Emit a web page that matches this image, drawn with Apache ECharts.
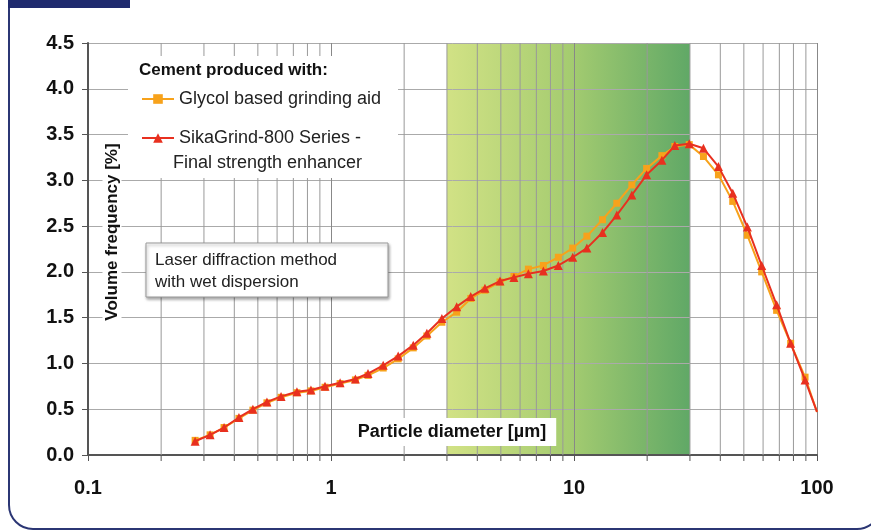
<!DOCTYPE html>
<html lang="en">
<head>
    <meta charset="UTF-8">
    <title>Particle size distribution</title>
    <script src="https://cdn.jsdelivr.net/npm/echarts@6/dist/echarts.min.js"></script>
    <style>
        html, body { margin: 0; padding: 0; background: #fff; }
    </style>
</head>
<body>
    <div id="chart" style="width: 871px; height: 531px;"></div>
    <script>
        const chart = echarts.init(document.querySelector('#chart'));

        // particle size classes [µm]
        const sizes = [0.276, 0.318, 0.363, 0.418, 0.477, 0.545, 0.623, 0.724, 0.827, 0.945,
            1.09, 1.26, 1.42, 1.64, 1.89, 2.18, 2.48, 2.86, 3.29, 3.76,
            4.30, 4.96, 5.66, 6.49, 7.48, 8.62, 9.88, 11.3, 13.1, 15.0,
            17.3, 19.9, 23.0, 26.0, 29.8, 34.1, 39.3, 45.0, 51.7, 59.2,
            68.2, 77.9, 89.3, 100];
        // volume frequency [%]
        const glycol = [0.16, 0.22, 0.30, 0.40, 0.49, 0.57, 0.63, 0.68, 0.70, 0.74,
            0.78, 0.82, 0.87, 0.95, 1.05, 1.17, 1.30, 1.45, 1.56, 1.71,
            1.80, 1.89, 1.95, 2.03, 2.07, 2.16, 2.26, 2.39, 2.57, 2.75,
            2.95, 3.13, 3.27, 3.37, 3.39, 3.26, 3.06, 2.77, 2.40, 2.00,
            1.58, 1.22, 0.85, 0.47];
        const sikagrind = [0.15, 0.22, 0.30, 0.41, 0.50, 0.58, 0.64, 0.69, 0.71, 0.75,
            0.79, 0.83, 0.89, 0.98, 1.08, 1.20, 1.33, 1.49, 1.62, 1.73,
            1.82, 1.90, 1.94, 1.98, 2.01, 2.07, 2.16, 2.26, 2.43, 2.62,
            2.84, 3.06, 3.22, 3.38, 3.40, 3.35, 3.15, 2.86, 2.49, 2.07,
            1.64, 1.22, 0.82, 0.47];
        const minorTicks = [0.2, 0.3, 0.4, 0.5, 0.6, 0.7, 0.8, 0.9,
            2, 3, 4, 5, 6, 7, 8, 9,
            20, 30, 40, 50, 60, 70, 80, 90];
        const bandRange = [3, 30];

        const FONT = '"Liberation Sans", Arial, sans-serif';
        const NAME_GLYCOL = 'Glycol based grinding aid';
        const NAME_SIKA = 'SikaGrind-800 Series -';

        // last point sits on the axis end, no marker there
        const toData = (vals) => vals.map((v, i) => {
            const item = { value: [sizes[i], v] };
            if (i === vals.length - 1) item.symbolSize = 0;
            return item;
        });

        const option = {
            animation: false,
            grid: { left: 88, right: 54, top: 43, bottom: 76 },
            xAxis: {
                type: 'log',
                logBase: 10,
                min: 0.1,
                max: 100,
                z: 2,
                axisLine: { lineStyle: { color: '#555', width: 2 } },
                axisTick: { show: true, length: 6, lineStyle: { color: '#555' } },
                axisLabel: {
                    margin: 23,
                    fontFamily: FONT,
                    fontSize: 20,
                    fontWeight: 'bold',
                    color: '#111'
                },
                splitLine: { show: true, lineStyle: { color: '#888', width: 1 } }
            },
            yAxis: {
                type: 'value',
                min: 0,
                max: 4.5,
                interval: 0.5,
                z: 2,
                axisLine: { show: true, lineStyle: { color: '#555', width: 2 } },
                axisTick: { show: true, length: 6, lineStyle: { color: '#555' } },
                axisLabel: {
                    margin: 14,
                    fontFamily: FONT,
                    fontSize: 20,
                    fontWeight: 'bold',
                    color: '#111',
                    formatter: v => v.toFixed(1)
                },
                splitLine: { show: true, lineStyle: { color: '#aaa', width: 1 } }
            },
            legend: {
                orient: 'vertical',
                left: 136,
                top: 85,
                itemWidth: 32,
                itemHeight: 12,
                itemGap: 21,
                z: 20,
                data: [NAME_GLYCOL, NAME_SIKA],
                textStyle: { fontFamily: FONT, fontSize: 18, color: '#222' }
            },
            graphic: [
                { // outer frame
                    type: 'rect', z: 0, silent: true,
                    shape: { x: 9, y: -40, width: 872, height: 569, r: 24 },
                    style: { fill: null, stroke: '#2b3674', lineWidth: 2 }
                },
                { // figure tab
                    type: 'rect', z: 1, silent: true,
                    shape: { x: 8, y: 0, width: 122, height: 8 },
                    style: { fill: '#1f2a6e' }
                },
                { // legend background
                    type: 'rect', z: 15, silent: true,
                    shape: { x: 128, y: 56, width: 270, height: 122 },
                    style: { fill: '#fff' }
                },
                {
                    type: 'text', z: 21, silent: true,
                    x: 139, y: 62,
                    style: { text: 'Cement produced with:', font: 'bold 17px ' + FONT, fill: '#111' }
                },
                {
                    type: 'text', z: 21, silent: true,
                    x: 173, y: 154,
                    style: { text: 'Final strength enhancer', font: '18px ' + FONT, fill: '#222' }
                },
                { // method box
                    type: 'rect', z: 15, silent: true,
                    shape: { x: 146, y: 243, width: 242, height: 54 },
                    style: {
                        fill: '#fff', stroke: '#999', lineWidth: 1,
                        shadowBlur: 3, shadowOffsetX: 1, shadowOffsetY: 2, shadowColor: 'rgba(0,0,0,0.35)'
                    }
                },
                {
                    type: 'text', z: 21, silent: true,
                    x: 155, y: 249,
                    style: {
                        text: 'Laser diffraction method\nwith wet dispersion',
                        font: '17px ' + FONT, fill: '#222', lineHeight: 22
                    }
                },
                { // x axis name
                    type: 'text', z: 21, silent: true,
                    x: 452, y: 432,
                    style: {
                        text: 'Particle diameter [µm]',
                        font: 'bold 18px ' + FONT, fill: '#111',
                        align: 'center', verticalAlign: 'middle',
                        backgroundColor: '#fff', padding: [5, 10, 5, 10]
                    }
                },
                { // y axis name
                    type: 'text', z: 21, silent: true,
                    x: 112, y: 232, rotation: Math.PI / 2,
                    style: {
                        text: 'Volume frequency [%]',
                        font: 'bold 17px ' + FONT, fill: '#111',
                        align: 'center', verticalAlign: 'middle',
                        backgroundColor: '#fff', padding: [1, 2, 1, 2]
                    }
                }
            ],
            series: [
                { // 3-30 µm band
                    type: 'line',
                    data: [],
                    z: 0,
                    silent: true,
                    markArea: {
                        silent: true,
                        itemStyle: {
                            color: new echarts.graphic.LinearGradient(0, 0, 1, 0, [
                                { offset: 0, color: '#cddf78' },
                                { offset: 0.5, color: '#9cc761' },
                                { offset: 1, color: '#4f9f56' }
                            ]),
                            opacity: 0.9
                        },
                        data: [[{ xAxis: bandRange[0] }, { xAxis: bandRange[1] }]]
                    }
                },
                { // minor log grid lines and ticks
                    type: 'custom',
                    z: 3,
                    silent: true,
                    data: minorTicks.map(t => [t]),
                    encode: { x: 0 },
                    renderItem: (params, api) => {
                        const top = api.coord([api.value(0), 4.5]);
                        const bottom = api.coord([api.value(0), 0]);
                        return {
                            type: 'group',
                            children: [
                                {
                                    type: 'line',
                                    shape: { x1: top[0], y1: top[1], x2: bottom[0], y2: bottom[1] },
                                    style: { stroke: '#999', lineWidth: 1 }
                                },
                                {
                                    type: 'line',
                                    shape: { x1: bottom[0], y1: bottom[1], x2: bottom[0], y2: bottom[1] + 6 },
                                    style: { stroke: '#555', lineWidth: 1 }
                                }
                            ]
                        };
                    }
                },
                {
                    name: NAME_GLYCOL,
                    type: 'line',
                    z: 5,
                    data: toData(glycol),
                    symbol: 'rect',
                    symbolSize: 7,
                    color: '#f7a21b',
                    lineStyle: { width: 2, color: '#f7a21b' },
                    itemStyle: { color: '#f7a21b' }
                },
                {
                    name: NAME_SIKA,
                    type: 'line',
                    z: 6,
                    data: toData(sikagrind),
                    symbol: 'triangle',
                    symbolSize: 9,
                    color: '#e8301f',
                    lineStyle: { width: 2, color: '#e8301f' },
                    itemStyle: { color: '#e8301f' }
                }
            ]
        };
        chart.setOption(option);
    </script>
</body>
</html>
